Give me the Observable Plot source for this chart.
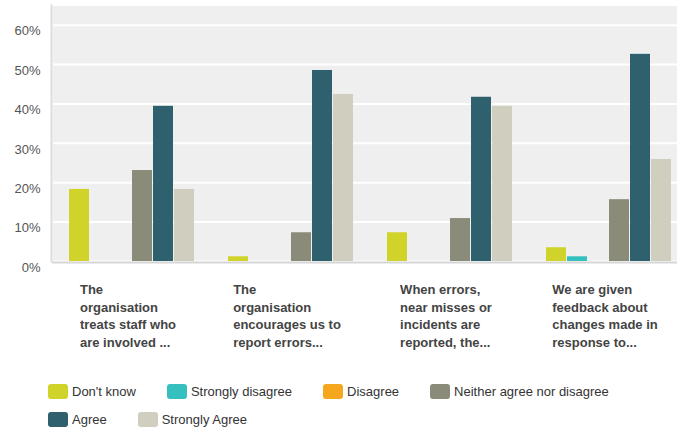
<!DOCTYPE html>
<html>
<head>
<meta charset="utf-8">
<script src="https://cdn.jsdelivr.net/npm/d3@7"></script>
<script src="https://cdn.jsdelivr.net/npm/@observablehq/plot@0.6"></script>
<style>
  html, body { margin: 0; padding: 0; background: #fff; overflow: hidden; }
  body { width: 677px; height: 431px; font-family: "Liberation Sans", Arial, sans-serif; }
  #chart svg { display: block; }
  .legend { display: flex; flex-wrap: wrap; column-gap: 31px; row-gap: 13px; padding: 14px 0 0 48px; width: 620px; box-sizing: border-box; }
  .legend .item { display: flex; align-items: center; height: 15px; font-size: 13px; color: #333; }
  .legend .sw { width: 20px; height: 15px; border-radius: 3px; margin-right: 4px; }
</style>
</head>
<body>
<div id="chart"></div>
<div class="legend" id="legend"></div>
<script>
const questions = [
  "The\norganisation\ntreats staff who\nare involved ...",
  "The\norganisation\nencourages us to\nreport errors...",
  "When errors,\nnear misses or\nincidents are\nreported, the...",
  "We are given\nfeedback about\nchanges made in\nresponse to..."
];
const answers = ["Don't know", "Strongly disagree", "Disagree", "Neither agree nor disagree", "Agree", "Strongly Agree"];
const colors = ["#d0d42a", "#35bfbf", "#f5a81e", "#8a8b79", "#2e606e", "#d0cebf"];
// percentages per question, in the order of `answers`
const q1Values = [18.3, 0, 0, 23.1, 39.4, 18.3];
const q2Values = [1.2, 0, 0, 7.3, 48.5, 42.4];
const q3Values = [7.3, 0, 0, 10.9, 41.7, 39.4];
const q4Values = [3.5, 1.2, 0, 15.7, 52.6, 25.9];
const yTicks = [0, 0.1, 0.2, 0.3, 0.4, 0.5, 0.6];

const seriesValues = [q1Values, q2Values, q3Values, q4Values];
const data = questions.flatMap((q, i) =>
  answers.map((a, j) => ({question: q, answer: a, value: seriesValues[i][j] / 100}))
);

// each category label is a left-aligned block centred under its group
const labelFont = 'bold 13px "Liberation Sans", Arial, sans-serif';
const ctx = document.createElement("canvas").getContext("2d");
ctx.font = labelFont;
const blockWidth = q => Math.max(...q.split("\n").map(l => ctx.measureText(l).width));

const labelMarks = questions.map(q =>
  Plot.text([q], {fx: d => d, text: d => d, frameAnchor: "bottom", textAnchor: "start", lineAnchor: "top",
    dx: -blockWidth(q) / 2 - 4, dy: 20, lineHeight: 1.35, fontWeight: "bold", fill: "#444", fontSize: 13})
);

const chart = Plot.plot({
  width: 677,
  height: 370,
  marginLeft: 52,
  marginRight: 0,
  marginTop: 5,
  marginBottom: 109,
  style: {fontFamily: '"Liberation Sans", Arial, sans-serif', fontSize: "13px", background: "transparent", overflow: "visible"},
  fx: {domain: questions, range: [52, 688], padding: 0, axis: null},
  x: {domain: answers, paddingInner: 0.05, paddingOuter: 0.79, axis: null},
  y: {domain: [0, 0.65], axis: null},
  color: {domain: answers, range: colors},
  marks: [
    Plot.frame({fill: "#efefef", stroke: "none", shapeRendering: "crispEdges"}),
    Plot.gridY(yTicks, {stroke: "#fff", strokeOpacity: 1, strokeWidth: 2}),
    Plot.ruleY([0], {stroke: "#d6d6d6", strokeWidth: 2, dy: 1}),
    Plot.frame({anchor: "left", facetAnchor: "left", stroke: "#dcdcdc", strokeWidth: 2, dx: -1}),
    Plot.barY(data, {fx: "question", x: "answer", y: "value", fill: "answer"}),
    Plot.axisY(yTicks, {tickSize: 0, tickPadding: 12, dy: 6, label: null, tickFormat: d3.format(".0%"), fill: "#555", fontSize: 13}),
    ...labelMarks
  ]
});
document.getElementById("chart").appendChild(chart);

const legend = document.getElementById("legend");
answers.forEach((a, i) => {
  const item = document.createElement("div");
  item.className = "item";
  const sw = document.createElement("span");
  sw.className = "sw";
  sw.style.background = colors[i];
  const label = document.createElement("span");
  label.textContent = a;
  item.appendChild(sw);
  item.appendChild(label);
  legend.appendChild(item);
});
</script>
</body>
</html>
